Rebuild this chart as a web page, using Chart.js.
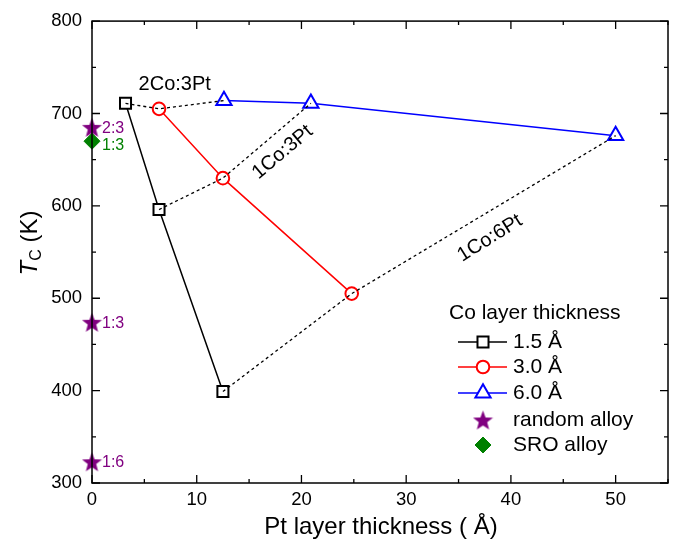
<!DOCTYPE html>
<html>
<head>
<meta charset="utf-8">
<script src="https://cdn.jsdelivr.net/npm/chart.js@4.4.1/dist/chart.umd.min.js"></script>
<style>
  html, body { margin: 0; padding: 0; background: #fff; }
  #wrap { width: 673px; height: 549px; }
</style>
</head>
<body>
<div id="wrap"><canvas id="tcChart" width="673" height="549"></canvas></div>
<script>
// ---- data ----
const ptCo15 = [3.2, 6.4, 12.5];
const tcCo15 = [711, 596, 399];
const ptCo30 = [6.4, 12.5, 24.8];
const tcCo30 = [705, 630, 505];
const ptCo60 = [12.6, 20.9, 50.0];
const tcCo60 = [714, 711, 676];

const tcRandom = [685, 474, 323];
const randomLabels = ['2:3', '1:3', '1:6'];
const tcSro = [670];
const sroLabels = ['1:3'];

const tieLabels = ['2Co:3Pt', '1Co:3Pt', '1Co:6Pt'];
// label anchor (x, y in data units) and angle in degrees
const tieLabelX = [7.9, 18.2, 38.0];
const tieLabelY = [731, 658, 565];
const tieLabelAngle = [0, -40, -32];

const legendTitle = 'Co layer thickness';
const legendNames = ['1.5 Å', '3.0 Å', '6.0 Å', 'random alloy', 'SRO alloy'];

const PURPLE = '#800080';
const GREEN = '#008000';
const FONT = '"Liberation Sans", Arial, sans-serif';

// filled star used as point style
function makeStar(size, color) {
  const c = document.createElement('canvas');
  c.width = size; c.height = size;
  const g = c.getContext('2d');
  const R = size / 2, r = R * 0.42;
  g.beginPath();
  for (let i = 0; i < 10; i++) {
    const rad = i % 2 === 0 ? R : r;
    const a = -Math.PI / 2 + i * Math.PI / 5;
    g.lineTo(R + rad * Math.cos(a), R + 1 + rad * Math.sin(a));
  }
  g.closePath();
  g.fillStyle = color;
  g.fill();
  return c;
}
const starImg = makeStar(21, PURPLE);

function pts(xs, ys) {
  return xs.map((x, i) => ({ x: x, y: ys[i] }));
}

// tie lines connect i-th point of each Co series
const tieSets = tieLabels.map((lab, i) => ({
  label: lab,
  data: [
    { x: ptCo15[i], y: tcCo15[i] },
    { x: ptCo30[i], y: tcCo30[i] },
    { x: ptCo60[i], y: tcCo60[i] }
  ],
  showLine: true,
  borderColor: '#000',
  borderWidth: 1.3,
  borderDash: [3, 3],
  pointRadius: 0,
  order: 1
}));

const seriesSets = [
  {
    label: legendNames[0], data: pts(ptCo15, tcCo15), showLine: true,
    borderColor: '#000', borderWidth: 1.5, pointStyle: 'rect', pointRadius: 7.8,
    pointBorderWidth: 2, pointBackgroundColor: '#fff', pointBorderColor: '#000', order: 5
  },
  {
    label: legendNames[1], data: pts(ptCo30, tcCo30), showLine: true,
    borderColor: '#f00', borderWidth: 1.5, pointStyle: 'circle', pointRadius: 6.3,
    pointBorderWidth: 2, pointBackgroundColor: '#fff', pointBorderColor: '#f00', order: 4
  },
  {
    label: legendNames[2], data: pts(ptCo60, tcCo60), showLine: true,
    borderColor: '#00f', borderWidth: 1.5, pointStyle: 'triangle', pointRadius: 8.8,
    pointBorderWidth: 2, pointBackgroundColor: '#fff', pointBorderColor: '#00f', order: 3
  },
  {
    label: legendNames[3], data: tcRandom.map(v => ({ x: 0, y: v })),
    pointStyle: starImg, pointRadius: 10, clip: false, order: 0
  },
  {
    label: legendNames[4], data: tcSro.map(v => ({ x: 0, y: v })),
    pointStyle: 'rectRot', pointRadius: 8, pointBackgroundColor: GREEN,
    pointBorderColor: GREEN, pointBorderWidth: 1, clip: false, order: 0
  }
];

function drawShape(ctx, style, r, x, y) {
  if (style === 'rect') {
    const s = r * Math.SQRT1_2;
    ctx.rect(x - s, y - s, 2 * s, 2 * s);
  } else if (style === 'circle') {
    ctx.arc(x, y, r, 0, Math.PI * 2);
  } else if (style === 'triangle') {
    const e = 3 * r / Math.sqrt(3);
    const h = e * Math.sqrt(3) / 2;
    ctx.moveTo(x - e / 2, y + h / 3);
    ctx.lineTo(x + e / 2, y + h / 3);
    ctx.lineTo(x, y - 2 * h / 3);
    ctx.closePath();
  } else if (style === 'rectRot') {
    ctx.moveTo(x, y - r); ctx.lineTo(x + r, y);
    ctx.lineTo(x, y + r); ctx.lineTo(x - r, y);
    ctx.closePath();
  }
}

// ticks, frame, annotations, legend, axis titles
const decorPlugin = {
  id: 'decor',
  afterDraw(chart) {
    const ctx = chart.ctx;
    const a = chart.chartArea;
    const xs = chart.scales.x, ys = chart.scales.y;
    ctx.save();

    // frame
    ctx.strokeStyle = '#000';
    ctx.lineWidth = 1.5;
    ctx.strokeRect(a.left, a.top, a.right - a.left, a.bottom - a.top);

    // inward ticks
    ctx.lineWidth = 1.3;
    ctx.beginPath();
    for (let v = 0; v <= 55; v += 5) {
      const px = xs.getPixelForValue(v);
      const len = v % 10 === 0 ? 8 : 4;
      ctx.moveTo(px, a.bottom); ctx.lineTo(px, a.bottom - len);
      ctx.moveTo(px, a.top); ctx.lineTo(px, a.top + len);
    }
    for (let v = 300; v <= 800; v += 50) {
      const py = ys.getPixelForValue(v);
      const len = v % 100 === 0 ? 8 : 4;
      ctx.moveTo(a.left, py); ctx.lineTo(a.left + len, py);
      ctx.moveTo(a.right, py); ctx.lineTo(a.right - len, py);
    }
    ctx.stroke();

    // alloy ratio labels
    ctx.font = '16px ' + FONT;
    ctx.textBaseline = 'middle';
    ctx.textAlign = 'left';
    ctx.fillStyle = PURPLE;
    tcRandom.forEach((v, i) => {
      ctx.fillText(randomLabels[i], xs.getPixelForValue(0) + 10, ys.getPixelForValue(v) + 1);
    });
    ctx.fillStyle = GREEN;
    tcSro.forEach((v, i) => {
      ctx.fillText(sroLabels[i], xs.getPixelForValue(0) + 10, ys.getPixelForValue(v) + 4);
    });

    // tie line labels
    ctx.fillStyle = '#000';
    ctx.font = '20px ' + FONT;
    ctx.textAlign = 'center';
    tieLabels.forEach((t, i) => {
      ctx.save();
      ctx.translate(xs.getPixelForValue(tieLabelX[i]), ys.getPixelForValue(tieLabelY[i]));
      ctx.rotate(tieLabelAngle[i] * Math.PI / 180);
      ctx.fillText(t, 0, 0);
      ctx.restore();
    });

    // legend
    ctx.font = '21px ' + FONT;
    ctx.textAlign = 'left';
    ctx.fillText(legendTitle, 449, 313);
    const rowY = [342, 367, 393, 420, 445];
    const lineX0 = 458, lineX1 = 507, mx = 483;
    seriesSets.forEach((ds, i) => {
      const y = rowY[i];
      if (ds.showLine) {
        ctx.strokeStyle = ds.borderColor;
        ctx.lineWidth = 1.5;
        ctx.beginPath();
        ctx.moveTo(lineX0, y); ctx.lineTo(lineX1, y);
        ctx.stroke();
      }
      if (typeof ds.pointStyle === 'string') {
        ctx.fillStyle = ds.pointBackgroundColor || '#000';
        ctx.strokeStyle = ds.pointBorderColor || '#000';
        ctx.lineWidth = ds.pointBorderWidth || 1;
        ctx.beginPath();
        drawShape(ctx, ds.pointStyle, ds.pointRadius, mx, y);
        ctx.fill();
        ctx.stroke();
      } else {
        ctx.drawImage(ds.pointStyle, mx - ds.pointStyle.width / 2, y - ds.pointStyle.height / 2);
      }
      ctx.fillStyle = '#000';
      ctx.fillText(ds.label, 513, y);
    });

    // axis titles
    ctx.font = '24px ' + FONT;
    ctx.textAlign = 'center';
    ctx.fillText('Pt layer thickness ( Å)', 381, 527);

    ctx.save();
    ctx.translate(30, 243);
    ctx.rotate(-Math.PI / 2);
    ctx.textAlign = 'left';
    ctx.font = 'italic 24px ' + FONT;
    const tW = ctx.measureText('T').width;
    ctx.font = '16px ' + FONT;
    const cW = ctx.measureText('C').width;
    ctx.font = '24px ' + FONT;
    const kW = ctx.measureText(' (K)').width;
    const x0 = -(tW + cW + kW) / 2;
    ctx.font = 'italic 24px ' + FONT;
    ctx.fillText('T', x0, 0);
    ctx.font = '16px ' + FONT;
    ctx.fillText('C', x0 + tW, 7);
    ctx.font = '24px ' + FONT;
    ctx.fillText(' (K)', x0 + tW + cW, 0);
    ctx.restore();

    ctx.restore();
  }
};

new Chart(document.getElementById('tcChart'), {
  type: 'scatter',
  data: { datasets: tieSets.concat(seriesSets) },
  options: {
    responsive: false,
    animation: false,
    devicePixelRatio: 1,
    layout: { autoPadding: false, padding: { left: 0, right: 5, top: 15, bottom: 0 } },
    plugins: { legend: { display: false }, tooltip: { enabled: false } },
    scales: {
      x: {
        type: 'linear', min: 0, max: 55,
        afterFit: (s) => { s.height = 66; },
        border: { display: false },
        grid: { display: false, drawTicks: false },
        ticks: {
          stepSize: 10, includeBounds: false, padding: 6, maxRotation: 0,
          color: '#000', font: { family: FONT, size: 18.5 }
        }
      },
      y: {
        type: 'linear', min: 300, max: 800,
        afterFit: (s) => { s.width = 92; },
        border: { display: false },
        grid: { display: false, drawTicks: false },
        ticks: {
          stepSize: 100, padding: 10,
          color: '#000', font: { family: FONT, size: 18.5 }
        }
      }
    }
  },
  plugins: [decorPlugin]
});
</script>
</body>
</html>
